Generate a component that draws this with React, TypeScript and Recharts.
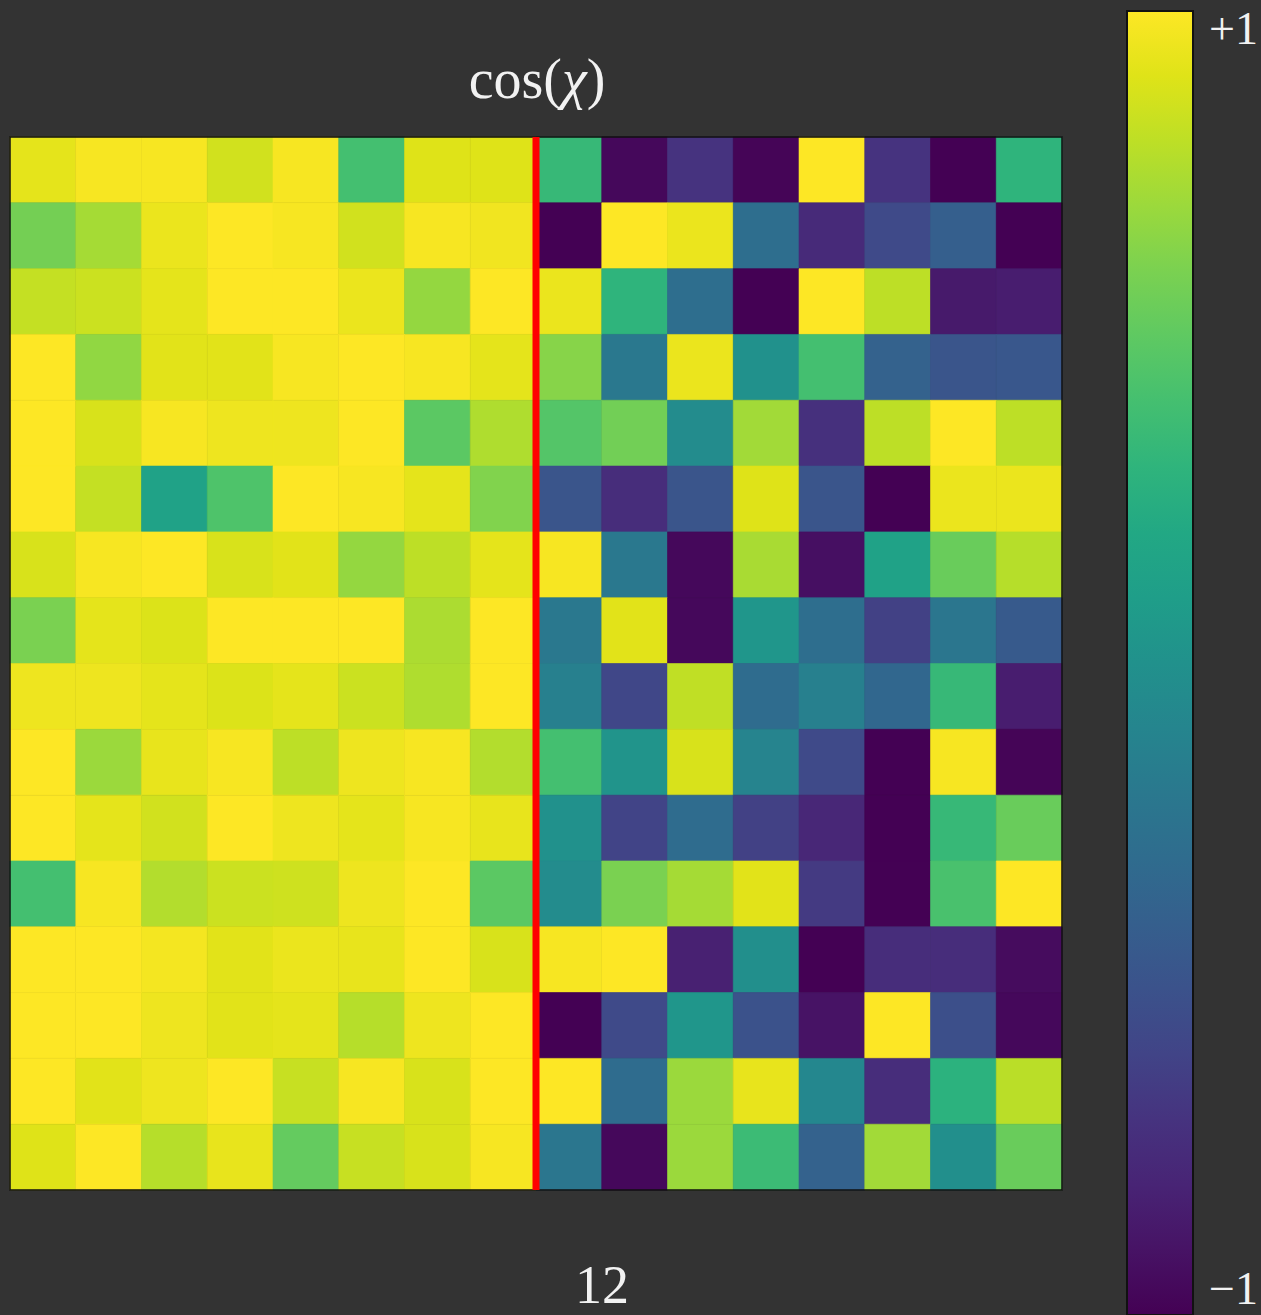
import React from "react";
import { ComposedChart, XAxis, YAxis, ReferenceArea, ReferenceLine } from "recharts";

// cos(chi) values, one array per row (row 0 = top)
const r00 = [0.92, 0.98, 0.98, 0.86, 0.98, 0.40, 0.90, 0.90, 0.34, -0.96, -0.70, -0.98, 1.00, -0.70, -1.00, 0.30];
const r01 = [0.58, 0.73, 0.94, 1.00, 0.98, 0.86, 0.98, 0.96, -1.00, 1.00, 0.94, -0.28, -0.76, -0.56, -0.40, -1.00];
const r02 = [0.82, 0.84, 0.92, 1.00, 1.00, 0.94, 0.68, 1.00, 0.94, 0.30, -0.28, -1.00, 1.00, 0.80, -0.86, -0.84];
const r03 = [1.00, 0.67, 0.91, 0.91, 0.98, 1.00, 0.98, 0.92, 0.64, -0.20, 0.94, 0.00, 0.40, -0.38, -0.48, -0.46];
const r04 = [1.00, 0.88, 0.98, 0.95, 0.95, 1.00, 0.49, 0.76, 0.46, 0.57, -0.04, 0.72, -0.72, 0.80, 1.00, 0.80];
const r05 = [1.00, 0.82, 0.14, 0.44, 1.00, 0.98, 0.92, 0.62, -0.48, -0.74, -0.48, 0.90, -0.48, -1.00, 0.94, 0.94];
const r06 = [0.88, 0.98, 1.00, 0.88, 0.91, 0.68, 0.80, 0.92, 0.98, -0.20, -0.96, 0.74, -0.92, 0.14, 0.54, 0.78];
const r07 = [0.60, 0.92, 0.89, 1.00, 1.00, 1.00, 0.75, 1.00, -0.20, 0.91, -0.96, 0.04, -0.28, -0.62, -0.22, -0.44];
const r08 = [0.95, 0.95, 0.92, 0.89, 0.92, 0.84, 0.76, 1.00, -0.14, -0.58, 0.81, -0.30, -0.14, -0.34, 0.34, -0.84];
const r09 = [1.00, 0.70, 0.93, 0.98, 0.80, 0.95, 0.98, 0.77, 0.40, 0.02, 0.88, -0.11, -0.56, -1.00, 0.98, -0.98];
const r10 = [1.00, 0.92, 0.86, 1.00, 0.95, 0.92, 0.98, 0.93, 0.00, -0.60, -0.30, -0.62, -0.78, -1.00, 0.34, 0.54];
const r11 = [0.40, 0.98, 0.77, 0.84, 0.85, 0.95, 1.00, 0.49, -0.04, 0.60, 0.73, 0.91, -0.66, -1.00, 0.42, 1.00];
const r12 = [1.00, 1.00, 0.97, 0.91, 0.94, 0.93, 1.00, 0.88, 0.98, 1.00, -0.82, -0.02, -1.00, -0.74, -0.74, -0.94];
const r13 = [1.00, 1.00, 0.95, 0.91, 0.92, 0.78, 0.95, 1.00, -1.00, -0.56, 0.04, -0.50, -0.90, 1.00, -0.52, -0.96];
const r14 = [1.00, 0.91, 0.95, 1.00, 0.83, 0.98, 0.88, 1.00, 1.00, -0.30, 0.70, 0.93, -0.08, -0.74, 0.28, 0.79];
const r15 = [0.90, 1.00, 0.78, 0.93, 0.52, 0.83, 0.88, 0.98, -0.22, -0.96, 0.70, 0.36, -0.38, 0.72, -0.02, 0.54];

const rows = [r00, r01, r02, r03, r04, r05, r06, r07, r08, r09, r10, r11, r12, r13, r14, r15];
const splitColumn = 8;
const colorbarTicks = [-1, 1];
const colorbarData = [{ x: 0, v: -1 }, { x: 1, v: 1 }];
const titleText = "cos(";
const titleSymbol = "χ";
const bottomLabel = "12";

// viridis colormap
const VIRIDIS = [
  "#440154", "#471365", "#482475", "#46337f", "#414487", "#3b528b", "#355f8d", "#2f6c8e",
  "#2a788e", "#25858e", "#21918c", "#1f9e89", "#22a884", "#2fb47c", "#44bf70", "#5ec962",
  "#7ad151", "#9bd93c", "#bddf26", "#dfe318", "#fde725",
];
function hexToRgb(h: string) {
  return [parseInt(h.slice(1, 3), 16), parseInt(h.slice(3, 5), 16), parseInt(h.slice(5, 7), 16)];
}
function viridis(v: number) {
  const t = Math.max(0, Math.min(1, (v + 1) / 2)) * (VIRIDIS.length - 1);
  const i = Math.min(VIRIDIS.length - 2, Math.floor(t));
  const f = t - i;
  const a = hexToRgb(VIRIDIS[i]);
  const b = hexToRgb(VIRIDIS[i + 1]);
  const c = a.map((x, k) => Math.round(x + (b[k] - x) * f));
  return `rgb(${c[0]},${c[1]},${c[2]})`;
}

const cells = rows.flatMap((row, ri) => row.map((v, ci) => ({ row: ri, col: ci, v })));

const BG = "#333333";
const TEXT = "#f2f2f2";
const SERIF = "'Liberation Serif', 'DejaVu Serif', serif";

function ColorbarTick(props: any) {
  const { x, y, payload } = props;
  const v = payload.value;
  const label = v > 0 ? "+1" : "\u22121";
  return (
    <text x={x + 8} y={v > 0 ? y + 33 : y - 11} fill={TEXT} fontSize={46} fontFamily={SERIF}>
      {label}
    </text>
  );
}

export default function App() {
  return (
    <div style={{ position: "absolute", left: 0, top: 0, width: 1261, height: 1315, background: BG, overflow: "hidden" }}>
      <svg width={0} height={0} style={{ position: "absolute" }}>
        <defs>
          <linearGradient id="viridisGrad" x1="0" y1="1" x2="0" y2="0">
            {VIRIDIS.map((c, i) => (
              <stop key={i} offset={`${(i / (VIRIDIS.length - 1)) * 100}%`} stopColor={c} />
            ))}
          </linearGradient>
        </defs>
      </svg>
      <div style={{ position: "absolute", left: 0, top: 0 }}>
        <ComposedChart width={1100} height={1315} margin={{ top: 137, left: 10, right: 38, bottom: 125 }}>
          <XAxis type="number" dataKey="col" domain={[0, 16]} hide allowDataOverflow />
          <YAxis type="number" dataKey="row" domain={[0, 16]} reversed hide allowDataOverflow />
          {cells.map((c) => (
            <ReferenceArea
              key={`${c.row}-${c.col}`}
              x1={c.col}
              x2={c.col + 1}
              y1={c.row}
              y2={c.row + 1}
              fill={viridis(c.v)}
              fillOpacity={1}
              stroke={viridis(c.v)}
              strokeWidth={0.6}
            />
          ))}
          <ReferenceArea x1={0} x2={16} y1={0} y2={16} fill="none" stroke="#111" strokeWidth={1.5} />
          <ReferenceLine x={splitColumn} stroke="#ff0000" strokeWidth={7} />
        </ComposedChart>
      </div>
      <div style={{ position: "absolute", left: 1100, top: 0 }}>
        <ComposedChart width={161} height={1330} data={colorbarData} margin={{ top: 11, left: 27, right: 0, bottom: 15 }}>
          <XAxis type="number" dataKey="x" domain={[0, 1]} hide allowDataOverflow />
          <YAxis
            type="number"
            dataKey="v"
            orientation="right"
            domain={[-1, 1]}
            ticks={colorbarTicks}
            width={68}
            axisLine={false}
            tickLine={false}
            tick={ColorbarTick}
            allowDataOverflow
          />
          <ReferenceArea x1={0} x2={1} y1={-1} y2={1} fill="url(#viridisGrad)" fillOpacity={1} stroke="#111" strokeWidth={2} />
        </ComposedChart>
      </div>
      <svg width={1261} height={1315} style={{ position: "absolute", left: 0, top: 0, pointerEvents: "none" }}>
        <text x={537} y={98} textAnchor="middle" fill={TEXT} fontSize={56} fontFamily={SERIF}>
          {titleText}
          <tspan fontStyle="italic">{titleSymbol}</tspan>)
        </text>
        <text x={602} y={1303} textAnchor="middle" fill={TEXT} fontSize={54} fontFamily={SERIF}>
          {bottomLabel}
        </text>
      </svg>
    </div>
  );
}
